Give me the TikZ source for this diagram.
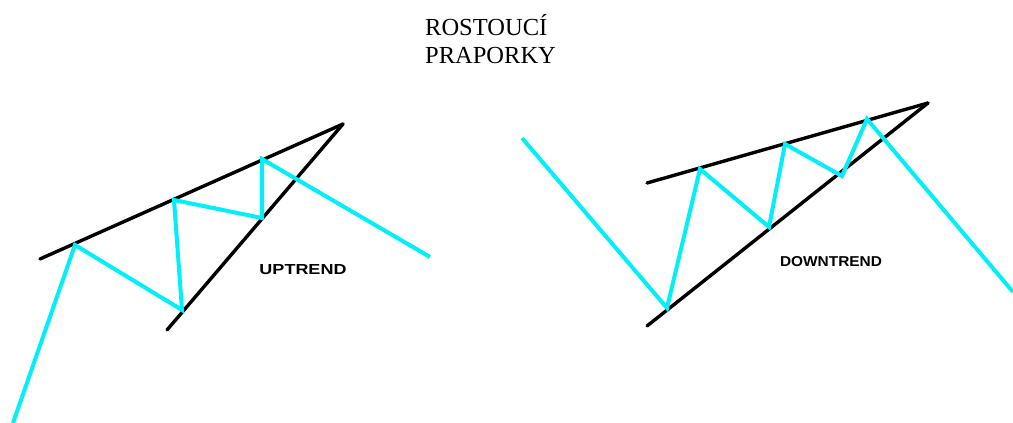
\documentclass[tikz,border=0pt]{standalone}
\usepackage{fontspec}
\setmainfont{Liberation Serif}
\newfontfamily\labelfont{Liberation Sans}
\definecolor{trendcyan}{RGB}{0,240,250}
\begin{document}
\begin{tikzpicture}[x=1pt,y=-1pt,
  blackline/.style={line width=3.4pt,black,line cap=round},
  cyanline/.style={line width=4pt,trendcyan,line join=miter,line cap=butt},
  titletext/.style={font=\fontsize{24.5}{28}\selectfont,anchor=base west,inner sep=0pt},
  trendlabel/.style={inner sep=0pt}]
\fill[white] (0,0) rectangle (1013,423);
\useasboundingbox (0,0) rectangle (1013,423);
% title
\node[titletext] (t1) at (425,35) {ROSTOUCÍ};
\node[titletext] (t2) at (425,63) {PRAPORKY};
% left pattern
\coordinate (LA) at (40,259);
\coordinate (LB) at (343,124);
\coordinate (LC) at (167,330);
\draw[blackline] (LA) -- (LB);
\draw[blackline] (LC) -- (LB);
\coordinate (L0) at (13,423);
\coordinate (L1) at (75,245);
\coordinate (L2) at (182,310);
\coordinate (L3) at (174,200);
\coordinate (L4) at (262,218);
\coordinate (L5) at (262,159);
\coordinate (L6) at (430,257);
\draw[cyanline] (L0) -- (L1) -- (L2) -- (L3) -- (L4) -- (L5) -- (L6);
\node[trendlabel] (up) at (303,270) {\resizebox{87pt}{10pt}{\labelfont\bfseries UPTREND}};
% right pattern
\coordinate (RA) at (647,183);
\coordinate (RB) at (928,103);
\coordinate (RC) at (647,326);
\draw[blackline] (RA) -- (RB);
\draw[blackline] (RC) -- (RB);
\coordinate (R0) at (522,138);
\coordinate (R1) at (667,308);
\coordinate (R2) at (700,169);
\coordinate (R3) at (769,227);
\coordinate (R4) at (785,144);
\coordinate (R5) at (842,176);
\coordinate (R6) at (867,119);
\coordinate (R7) at (1013,292);
\draw[cyanline] (R0) -- (R1) -- (R2) -- (R3) -- (R4) -- (R5) -- (R6) -- (R7);
\node[trendlabel] (down) at (831,262) {\resizebox{102pt}{10pt}{\labelfont\bfseries DOWNTREND}};
\end{tikzpicture}
\end{document}
